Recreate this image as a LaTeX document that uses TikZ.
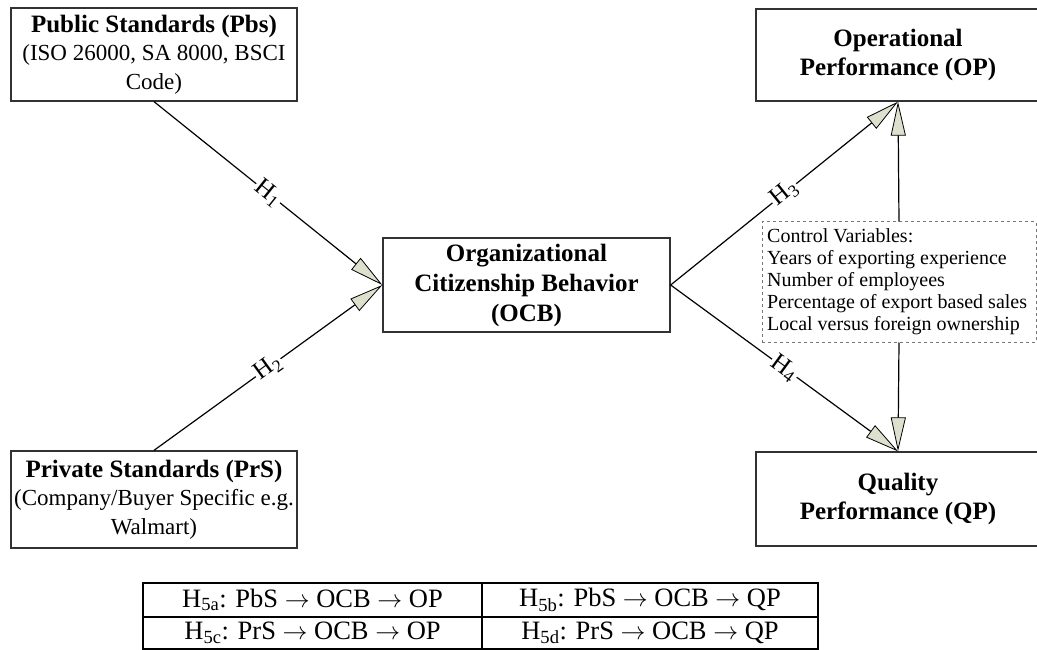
\documentclass[tikz,border=0pt]{standalone}
\usepackage{fontspec}
\setmainfont{Liberation Serif}
\usetikzlibrary{arrows.meta}
\definecolor{arrfill}{RGB}{220,224,204}
\definecolor{boxline}{RGB}{50,50,50}
\definecolor{dashline}{RGB}{120,120,120}
\begin{document}
\begin{tikzpicture}[x=1pt,y=-1pt,
  box/.style={draw=boxline, line width=1.3pt, align=center, inner sep=0pt,
    font=\fontsize{23}{28.5}\selectfont},
  conn/.style={line width=1.2pt, -{Triangle[length=34pt,width=15pt,fill=arrfill,line width=0.8pt]}},
  hlab/.style={fill=white, inner sep=1.5pt, sloped, pos=0.5, font=\fontsize{25}{26}\selectfont},
  cell/.style={draw=black, line width=1.8pt, inner sep=0pt, font=\fontsize{26.5}{28}\selectfont},
]
\useasboundingbox (0,0) rectangle (1037,650);
\newcommand{\bt}[1]{{\bfseries\fontsize{25}{28.5}\selectfont #1}}
% boxes
\node[box, minimum width=286pt, minimum height=93pt] (pbs) at (154,54.5)
  {\bt{Public Standards (Pbs)}\\(ISO 26000, SA 8000, BSCI\\Code)};
\node[box, minimum width=286pt, minimum height=97pt] (prs) at (154,499.5)
  {\bt{Private Standards (PrS)}\\(Company/Buyer Specific e.g.\\Walmart)};
\node[box, minimum width=287pt, minimum height=94pt, font=\bfseries\fontsize{25}{30}\selectfont] (ocb) at (526.5,285)
  {Organizational\\Citizenship Behavior\\(OCB)};
\node[box, minimum width=284pt, minimum height=92pt, font=\bfseries\fontsize{25}{28.5}\selectfont] (op) at (898,55)
  {Operational\\Performance (OP)};
\node[box, minimum width=284pt, minimum height=94pt, font=\bfseries\fontsize{25}{28.5}\selectfont] (qp) at (898,499)
  {Quality\\Performance (QP)};
\node[draw=dashline, dashed, line width=1pt, minimum width=274pt, minimum height=120pt,
  inner sep=0pt] (ctrl) at (899,282) {};
\node[anchor=west, align=left, inner sep=0pt, font=\fontsize{20}{22}\selectfont] (ctrltext) at (767,282)
  {Control Variables:\\Years of exporting experience\\Number of employees\\Percentage of export based sales\\Local versus foreign ownership};
% connectors
\draw[conn] (pbs.south) -- node[hlab]{H\textsubscript{1}} (ocb.west);
\draw[conn] (prs.north) -- node[hlab]{H\textsubscript{2}} (ocb.west);
\draw[conn] (ocb.east) -- node[hlab]{H\textsubscript{3}} (op.south);
\draw[conn] (ocb.east) -- node[hlab]{H\textsubscript{4}} (qp.north);
\draw[conn] (ctrl.north) -- (op.south);
\draw[conn] (ctrl.south) -- (qp.north);
% table
\node[cell, minimum width=339pt, minimum height=34pt] (t11) at (312.5,600)
  {H\textsubscript{5a}: PbS $\rightarrow$ OCB $\rightarrow$ OP};
\node[cell, minimum width=336pt, minimum height=34pt] (t12) at (650,600)
  {H\textsubscript{5b}: PbS $\rightarrow$ OCB $\rightarrow$ QP};
\node[cell, minimum width=339pt, minimum height=32pt] (t21) at (312.5,633)
  {H\textsubscript{5c}: PrS $\rightarrow$ OCB $\rightarrow$ OP};
\node[cell, minimum width=336pt, minimum height=32pt] (t22) at (650,633)
  {H\textsubscript{5d}: PrS $\rightarrow$ OCB $\rightarrow$ QP};
\end{tikzpicture}
\end{document}
